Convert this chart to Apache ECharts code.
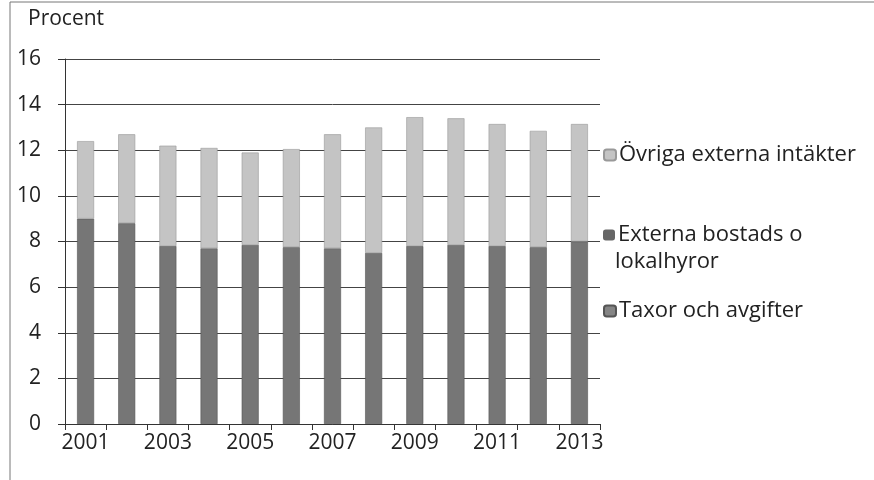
<!DOCTYPE html>
<html>
<head>
<meta charset="utf-8">
<script src="https://cdn.jsdelivr.net/npm/echarts@6/dist/echarts.min.js"></script>
<style>
html, body { margin: 0; padding: 0; background: #fff; }
#main { width: 874px; height: 480px; }
</style>
</head>
<body>
<div id="main"></div>
<script>
var years = ['2001', '2002', '2003', '2004', '2005', '2006', '2007', '2008', '2009', '2010', '2011', '2012', '2013'];
// bottom dark part
var taxor = [9.0, 8.8, 7.8, 7.7, 7.85, 7.75, 7.7, 7.5, 7.8, 7.85, 7.8, 7.75, 8.0];
// no visible band in the picture
var externa = [0, 0, 0, 0, 0, 0, 0, 0, 0, 0, 0, 0, 0];
// light top part
var ovriga = [3.4, 3.9, 4.4, 4.4, 4.05, 4.3, 5.0, 5.5, 5.65, 5.55, 5.35, 5.1, 5.15];

var font = 'Open Sans';
var dom = document.getElementById('main');
var myChart = echarts.init(dom);

function legendAt(name, label, top, color) {
    return {
        data: [{ name: name, itemStyle: { color: color } }],
        left: 598,
        top: top,
        itemWidth: 12,
        itemHeight: 11,
        itemGap: 0,
        selectedMode: false,
        formatter: label,
        textStyle: { fontFamily: font, fontSize: 22, color: '#222', padding: [0, 0, 0, -2] }
    };
}

option = {
    backgroundColor: '#fff',
    animation: false,
    title: {
        text: 'Procent',
        left: 23,
        top: 4,
        textStyle: { fontFamily: font, fontSize: 21, fontWeight: 'normal', color: '#222' }
    },
    legend: [
        legendAt('Övriga externa intäkter', 'Övriga externa intäkter', 139, '#c4c4c4'),
        legendAt('Externa bostads o lokalhyror', 'Externa bostads o', 219, '#666'),
        legendAt('Taxor och avgifter', 'Taxor och avgifter', 295, '#858585')
    ],
    graphic: [
        { type: 'text', left: 615, top: 251, style: { text: 'lokalhyror', font: '22px "Open Sans"', fill: '#222' } },
        { type: 'line', shape: { x1: 10, y1: 2, x2: 874, y2: 2 }, style: { stroke: '#777', lineWidth: 1 } },
        { type: 'line', shape: { x1: 10, y1: 2, x2: 10, y2: 480 }, style: { stroke: '#777', lineWidth: 1 } }
    ],
    grid: { left: 65, right: 274, top: 59, bottom: 56 },
    xAxis: {
        type: 'category',
        data: years,
        boundaryGap: true,
        axisLine: { lineStyle: { color: '#333', width: 1 } },
        axisTick: { show: true, interval: 0, length: 6, lineStyle: { color: '#333' } },
        axisLabel: { interval: 1, margin: 9, fontFamily: font, fontSize: 21, color: '#222' }
    },
    yAxis: {
        type: 'value',
        min: 0,
        max: 16,
        interval: 2,
        axisLine: { show: true, lineStyle: { color: '#333', width: 1 } },
        axisTick: { show: true, length: 7, lineStyle: { color: '#333' } },
        axisLabel: { margin: 24, fontFamily: font, fontSize: 21, color: '#222' },
        splitLine: { lineStyle: { color: '#444', width: 1 } }
    },
    series: [
        {
            name: 'Taxor och avgifter',
            type: 'bar',
            stack: 'tot',
            barWidth: 17,
            data: taxor,
            itemStyle: { color: '#767676', borderColor: '#555', borderWidth: 0.6 }
        },
        {
            name: 'Externa bostads o lokalhyror',
            type: 'bar',
            stack: 'tot',
            barWidth: 17,
            data: externa,
            itemStyle: { color: '#666' }
        },
        {
            name: 'Övriga externa intäkter',
            type: 'bar',
            stack: 'tot',
            barWidth: 17,
            data: ovriga,
            itemStyle: { color: '#c4c4c4', borderColor: '#999', borderWidth: 0.6 }
        }
    ]
};
if (option && typeof option === "object") {
    myChart.setOption(option, true);
}
</script>
</body>
</html>
